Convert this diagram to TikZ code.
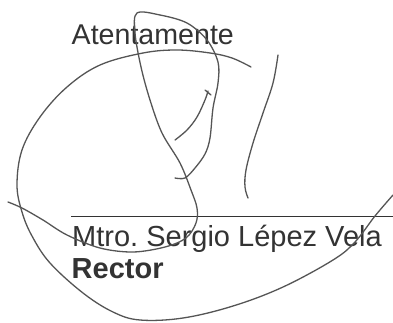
\documentclass[tikz,border=0pt]{standalone}
\usepackage{fontspec}
\setmainfont{Liberation Sans}
\definecolor{ink}{HTML}{333333}
\definecolor{pen}{HTML}{555555}
\frenchspacing
\begin{document}
\begin{tikzpicture}[x=1pt,y=-1pt,
  txt/.style={anchor=base west,inner sep=0pt,text=ink,font=\fontsize{29}{31}\selectfont},
  stroke/.style={draw=pen,line width=1.3pt,line cap=round,line join=round}]
\useasboundingbox (0,0) rectangle (393,322);
\fill[white] (0,0) rectangle (393,322);
\node[txt,font=\fontsize{28.6}{31}\selectfont] (att) at (71.5,44.5) {Atentamente};
\node[txt] (name) at (72,246.5) {Mtro. Sergio Lépez Vela};
\node[txt,font=\fontsize{29}{31}\selectfont\bfseries] (role) at (71.5,278) {Rector};
\coordinate (lineL) at (71,216.5);
\coordinate (lineR) at (393,216.5);
\draw[ink,line width=1.5pt] (lineL) -- (lineR);
% big arc
\draw[stroke] plot[smooth,tension=0.6] coordinates {(251,67) (232,58) (210,53) (177,50) (143,53) (100,65) (67,87) (40,117) (22,150) (17,185) (22,212) (32,236) (50,263) (83,293) (113,312) (140,320) (183,318) (233,306) (283,287) (333,260) (355,242) (375,216) (393,195)};
% loop stroke
\draw[stroke] plot[smooth,tension=0.55] coordinates {(8,202) (22,208) (43,220) (67,235) (100,248) (133,252) (165,247) (186,238) (196,223) (197,208) (191,190) (180,163) (162,133) (150,100) (141,67) (135,33) (137,13) (160,15) (187,23) (207,40) (218,62) (218,83) (213,108) (210,138) (205,154) (195,168) (185,178) (175,178)};
% hook
\draw[stroke] plot[smooth,tension=0.6] coordinates {(175,140) (187,130) (197,117) (205,100) (208,91)};
\draw[stroke] (205,90) -- (211,95);
% right stroke
\draw[stroke] plot[smooth,tension=0.6] coordinates {(278,55) (273,83) (263,113) (253,143) (246,170) (245,187) (248,198)};
\end{tikzpicture}
\end{document}
